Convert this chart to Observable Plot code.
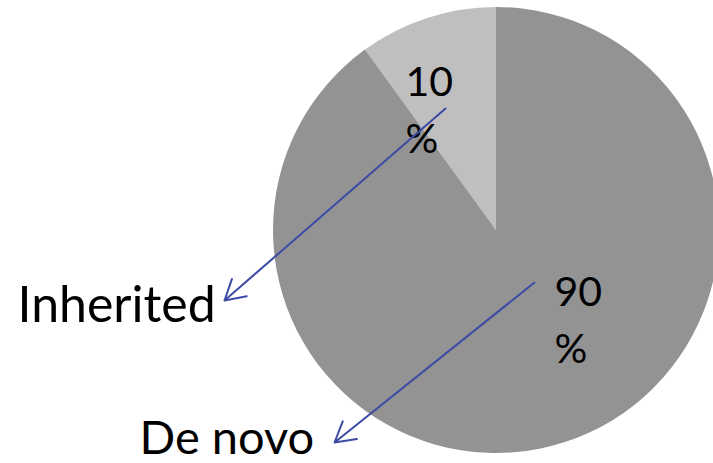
<!DOCTYPE html>
<html><head><meta charset="utf-8">
<script src="https://cdn.jsdelivr.net/npm/d3@7"></script>
<script src="https://cdn.jsdelivr.net/npm/@observablehq/plot@0.6"></script>
<style>body{margin:0;background:#fff;} svg{display:block;}</style>
</head><body><div id="chart"></div>
<script>
// ---- data ----
const categories = ["Inherited", "De novo"];
const values = [10, 90];
const percentLabels = ["10\n%", "90\n%"];

// ---- styles / layout ----
const sliceColors = ["#bfbfbf", "#939393"];
const arrowColor = "#3c4ba6";
const W = 713, H = 463;
const pie = {cx: 496, cy: 230, r: 223};
const pctPos = [{x: 405, y: 106}, {x: 554, y: 316}];
const catPos = [{x: 17, y: 305, size: 50}, {x: 139, y: 438, size: 47}];
const arrowPos = [
  {x1: 445, y1: 108, x2: 224, y2: 300},
  {x1: 534, y1: 282, x2: 334, y2: 442}
];

const rows = categories.map((c, i) => ({category: c, value: values[i], pct: percentLabels[i]}));
const total = d3.sum(values);
const start = -2 * Math.PI * values[0] / total;
const arcs = d3.pie().sort(null).value(d => d.value).startAngle(start).endAngle(start + 2 * Math.PI)(rows);

function pieMark(index, scales) {
  const cx = scales.x(pie.cx), cy = scales.y(pie.cy);
  const r = scales.x(pie.cx + pie.r) - cx;
  const g = d3.create("svg:g").attr("transform", `translate(${cx},${cy})`);
  const arc = d3.arc().innerRadius(0).outerRadius(r);
  g.selectAll("path").data(arcs).join("path")
    .attr("d", arc)
    .attr("fill", (d, i) => sliceColors[i]);
  return g.node();
}

const pctRows = rows.map((d, i) => ({...d, ...pctPos[i]}));
const catRows = rows.map((d, i) => ({...d, ...catPos[i]}));
const arrowRows = rows.map((d, i) => ({...d, ...arrowPos[i]}));

const chart = Plot.plot({
  width: W, height: H,
  margin: 0,
  x: {domain: [0, W], range: [0, W], axis: null},
  y: {domain: [0, H], range: [0, H], axis: null},
  style: {background: "#fff"},
  marks: [
    pieMark,
    Plot.text(pctRows, {x: "x", y: "y", text: "pct", textAnchor: "start", lineAnchor: "middle",
      lineHeight: 1.38, fontSize: 41, fill: "#000", fontFamily: "Lato"}),
    Plot.text(catRows, {x: "x", y: "y", text: "category", textAnchor: "start", lineAnchor: "middle",
      fontSize: "size", fill: "#000", fontFamily: "Lato"}),
    Plot.arrow(arrowRows, {x1: "x1", y1: "y1", x2: "x2", y2: "y2", stroke: arrowColor,
      strokeWidth: 2, headLength: 17, bend: 0})
  ]
});
document.getElementById("chart").appendChild(chart);
</script>
</body></html>
